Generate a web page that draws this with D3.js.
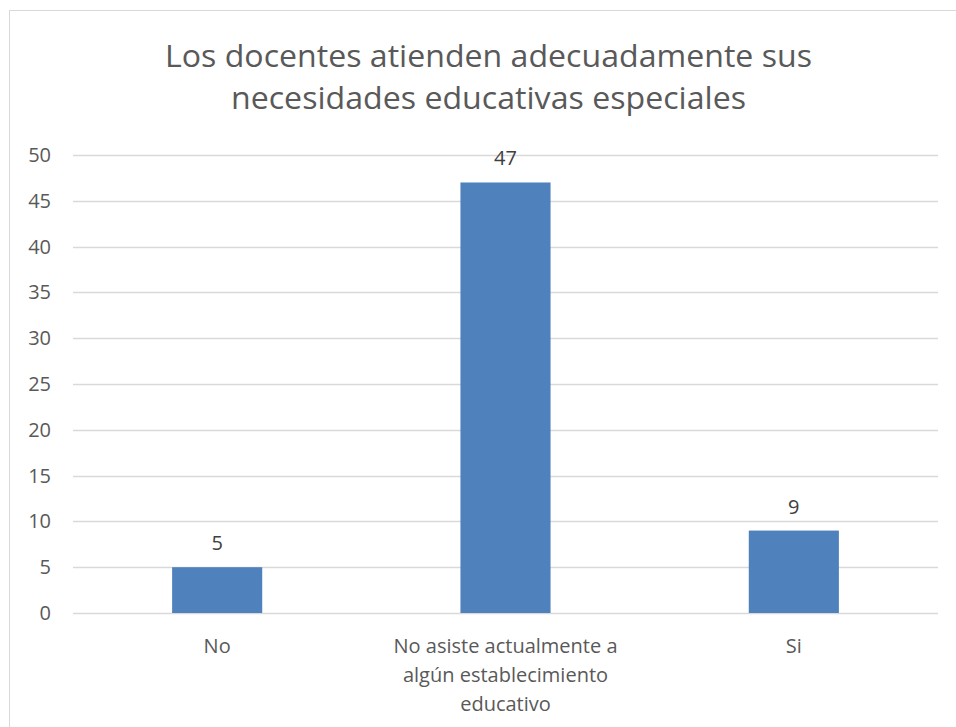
<!DOCTYPE html>
<html>
<head>
<meta charset="utf-8">
<script src="https://cdn.jsdelivr.net/npm/d3@7"></script>
<style>
  html, body { margin: 0; padding: 0; background: #fff; }
  svg { display: block; }
</style>
</head>
<body>
<svg id="chart" width="956" height="727"></svg>
<script>
// Chart data
const titleLines = ["Los docentes atienden adecuadamente sus", "necesidades educativas especiales"];
const categories = ["No", "No asiste actualmente a algún establecimiento educativo", "Si"];
const categoryLines = [["No"], ["No asiste actualmente a", "algún establecimiento", "educativo"], ["Si"]];
const values = [5, 47, 9];
const yTicks = [0, 5, 10, 15, 20, 25, 30, 35, 40, 45, 50];

const svg = d3.select("#chart");
const W = 956, H = 727;
const font = "'Open Sans', 'Noto Sans', sans-serif";

// Chart frame
svg.append("rect")
  .attr("x", 9.5).attr("y", 10.5)
  .attr("width", W + 10).attr("height", H + 10)
  .attr("fill", "#fff").attr("stroke", "#d9d9d9").attr("stroke-width", 1);

const plot = { left: 73, right: 938, top: 155, bottom: 613 };

const x = d3.scaleBand()
  .domain(categories)
  .range([plot.left, plot.right])
  .paddingInner(0.6875)
  .paddingOuter(0.34375);

const y = d3.scaleLinear()
  .domain([0, 50])
  .range([plot.bottom, plot.top]);

// Title
const titleWidths = [647, 515];
titleLines.forEach((t, i) => {
  svg.append("text")
    .attr("x", 488.5).attr("y", 67 + i * 42)
    .attr("text-anchor", "middle")
    .attr("font-family", font)
    .attr("font-size", 31)
    .attr("fill", "#595959")
    .attr("textLength", titleWidths[i])
    .attr("lengthAdjust", "spacingAndGlyphs")
    .text(t);
});

// Gridlines
svg.append("g")
  .selectAll("line")
  .data(yTicks)
  .join("line")
  .attr("x1", plot.left).attr("x2", plot.right)
  .attr("y1", d => Math.round(y(d)) + 0.5).attr("y2", d => Math.round(y(d)) + 0.5)
  .attr("stroke", "#d9d9d9").attr("stroke-width", 1.5);

// Y axis labels
const yAxis = d3.axisLeft(y).tickValues(yTicks).tickSize(0).tickPadding(0);
const gy = svg.append("g").attr("transform", `translate(51,0)`).call(yAxis);
gy.select(".domain").remove();
gy.selectAll("text")
  .attr("font-family", font).attr("font-size", 20).attr("fill", "#595959");

// Bars
svg.append("g")
  .selectAll("rect")
  .data(values)
  .join("rect")
  .attr("x", (d, i) => x(categories[i]))
  .attr("width", x.bandwidth())
  .attr("y", d => y(d))
  .attr("height", d => y(0) - y(d))
  .attr("fill", "#4f81bd");

// Value labels
svg.append("g")
  .selectAll("text")
  .data(values)
  .join("text")
  .attr("x", (d, i) => x(categories[i]) + x.bandwidth() / 2)
  .attr("y", d => y(d) - 17)
  .attr("text-anchor", "middle")
  .attr("font-family", font).attr("font-size", 20).attr("fill", "#404040")
  .text(d => d);

// Category labels
const xl = svg.append("g");
categoryLines.forEach((lines, i) => {
  const cx = x(categories[i]) + x.bandwidth() / 2;
  const t = xl.append("text")
    .attr("text-anchor", "middle")
    .attr("font-family", font).attr("font-size", 20).attr("fill", "#595959");
  lines.forEach((l, j) => {
    t.append("tspan").attr("x", cx).attr("y", 653 + j * 29).text(l);
  });
});
</script>
</body>
</html>
